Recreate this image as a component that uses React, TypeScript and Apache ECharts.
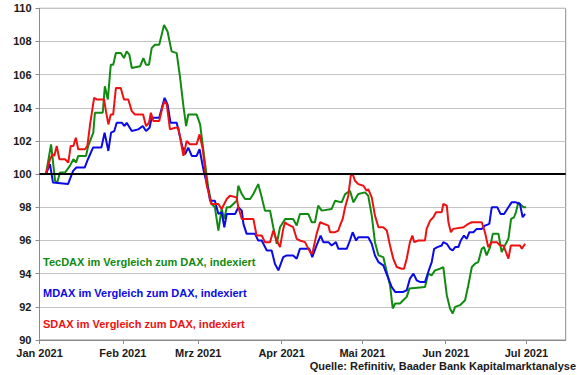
import React, { useEffect, useRef } from "react";
import * as echarts from "echarts";

// x = days since 1 Jan 2021, y = index value (DAX = 100)
const tecdax: [number, number][] = [
  [2.4, 100.0], [4.3, 101.8], [5.8, 99.6], [6.6, 99.5], [7.6, 100.1], [9.5, 100.1], [11.3, 100.5],
  [12.6, 100.9], [13.6, 100.7], [14.4, 101.1], [17.3, 101.1], [18.1, 101.7], [20.0, 102.5],
  [20.6, 103.7], [23.5, 103.7], [24.3, 105.3], [25.4, 104.5], [26.5, 106.6], [27.4, 106.6],
  [28.4, 107.3], [30.2, 107.3], [31.4, 107.0], [32.4, 107.4], [33.4, 107.2], [34.3, 106.4],
  [37.4, 106.5], [38.6, 107.0], [39.6, 106.6], [40.7, 106.6], [41.7, 107.6], [42.9, 107.8],
  [44.5, 107.8], [46.3, 109.0], [47.6, 108.6], [49.1, 107.4], [51.0, 107.3], [52.2, 105.9],
  [53.5, 104.1], [54.5, 102.9], [55.3, 103.6], [58.4, 103.6], [59.7, 103.0], [61.5, 100.7],
  [62.8, 99.1], [64.0, 98.2], [65.2, 98.0], [66.5, 96.6], [67.7, 97.9], [68.7, 97.3], [69.6, 98.0],
  [70.8, 98.0], [73.3, 98.4], [73.9, 99.3], [75.2, 98.8], [76.4, 98.5], [78.3, 98.5], [79.5, 98.8],
  [81.3, 99.4], [82.6, 98.6], [83.8, 97.8], [85.7, 97.8], [86.9, 96.8], [88.2, 95.8], [89.4, 96.8],
  [91.3, 97.3], [94.3, 97.3], [95.6, 96.9], [96.8, 97.6], [99.9, 97.6], [101.2, 97.1], [102.4, 97.1],
  [103.6, 98.1], [104.9, 97.8], [108.6, 97.9], [109.9, 98.4], [112.3, 98.3], [113.6, 98.8],
  [115.4, 99.0], [116.7, 98.3], [118.5, 98.8], [121.0, 98.9], [122.2, 98.7], [123.5, 97.5],
  [124.7, 95.9], [126.0, 95.1], [127.8, 95.0], [129.1, 94.1], [130.3, 93.3], [131.3, 91.9],
  [132.2, 92.2], [134.0, 92.2], [135.2, 92.4], [136.5, 92.6], [137.5, 93.1], [143.3, 93.2],
  [144.5, 94.0], [145.8, 93.9], [147.0, 94.2], [148.9, 94.3], [150.1, 94.4], [151.4, 92.7],
  [152.6, 91.9], [153.6, 91.6], [154.5, 92.0], [156.3, 92.1], [158.2, 92.4], [159.4, 93.3],
  [160.7, 94.4], [161.9, 94.6], [163.1, 94.7], [164.4, 95.5], [165.2, 95.6], [166.2, 95.1],
  [167.5, 95.6], [168.5, 96.4], [170.6, 96.4], [171.8, 95.3], [173.0, 95.7], [174.3, 96.1],
  [175.3, 97.3], [176.4, 97.4], [177.1, 97.7], [178.0, 98.3], [179.9, 98.0], [180.9, 98.0],
];

const mdax: [number, number][] = [
  [2.4, 100.0], [3.9, 100.6], [5.0, 99.5], [10.6, 99.4], [12.5, 100.2], [13.7, 100.4], [16.8, 100.4],
  [18.0, 100.9], [19.9, 101.6], [23.0, 101.6], [24.2, 102.5], [25.6, 101.4], [26.6, 102.5],
  [27.8, 102.6], [28.7, 103.1], [30.6, 103.1], [31.6, 102.9], [32.4, 103.1], [34.3, 102.6],
  [36.7, 102.7], [38.4, 102.9], [39.6, 102.6], [40.9, 102.8], [41.7, 103.4], [44.5, 103.4],
  [46.5, 104.6], [47.6, 104.2], [48.7, 103.1], [51.0, 103.1], [53.2, 101.6], [54.1, 101.2],
  [55.3, 101.6], [56.6, 101.1], [58.4, 101.1], [59.5, 101.5], [60.9, 100.3], [62.8, 99.0],
  [63.4, 98.4], [65.2, 98.4], [66.5, 97.6], [67.7, 97.7], [68.7, 96.8], [69.6, 97.6], [72.7, 97.6],
  [73.9, 98.0], [75.2, 97.8], [75.8, 97.0], [77.0, 96.4], [80.1, 96.4], [81.3, 96.0], [82.6, 96.0],
  [84.5, 95.4], [86.3, 95.4], [87.5, 94.6], [88.8, 94.2], [90.6, 95.0], [91.9, 95.1], [94.3, 95.1],
  [95.6, 94.9], [96.8, 95.5], [100.3, 95.5], [101.4, 95.0], [103.0, 95.7], [104.5, 96.3],
  [105.5, 95.9], [107.4, 95.9], [108.6, 95.7], [110.2, 95.9], [111.1, 95.5], [114.2, 95.5],
  [115.4, 96.0], [116.4, 96.5], [117.7, 96.0], [118.5, 96.2], [122.2, 96.2], [123.5, 95.8],
  [124.7, 95.1], [126.0, 94.7], [127.8, 94.5], [129.7, 93.7], [130.9, 93.2], [132.2, 92.9],
  [135.2, 92.9], [136.5, 93.0], [137.7, 93.7], [139.0, 94.0], [140.2, 93.6], [141.4, 93.5],
  [143.3, 93.5], [144.5, 94.1], [145.8, 94.7], [146.7, 95.5], [147.9, 95.6], [149.5, 95.7],
  [150.1, 95.9], [151.4, 95.8], [152.6, 95.5], [153.6, 95.4], [154.5, 95.6], [155.7, 95.6],
  [156.6, 96.0], [157.8, 96.3], [158.8, 96.1], [159.8, 96.5], [161.3, 96.5], [162.5, 96.7],
  [164.4, 96.7], [165.6, 96.9], [167.2, 97.0], [168.1, 98.0], [170.2, 98.0], [171.4, 97.6],
  [172.7, 97.6], [174.3, 98.0], [175.5, 98.3], [177.1, 98.3], [178.6, 98.2], [179.6, 97.4],
  [180.5, 97.6],
];

const sdax: [number, number][] = [
  [2.4, 100.0], [3.9, 100.9], [4.9, 101.2], [5.5, 101.1], [6.4, 101.7], [7.4, 100.9], [9.5, 100.9],
  [10.7, 100.7], [11.6, 101.7], [12.6, 101.7], [13.5, 102.2], [14.4, 101.5], [16.9, 101.5],
  [17.8, 101.7], [18.8, 103.0], [20.3, 104.6], [21.5, 104.5], [24.0, 104.5], [24.7, 103.8],
  [25.6, 103.0], [26.5, 103.6], [27.4, 103.6], [28.4, 105.2], [30.2, 105.2], [31.4, 104.5],
  [33.0, 104.5], [34.3, 103.8], [35.5, 103.6], [38.5, 103.6], [39.6, 102.9], [40.7, 103.1],
  [41.4, 103.7], [42.3, 103.2], [44.5, 103.2], [45.8, 104.1], [46.5, 104.4], [47.3, 104.2],
  [48.5, 102.7], [50.4, 102.8], [51.6, 102.8], [53.5, 101.1], [54.7, 102.0], [55.9, 101.8],
  [58.4, 101.8], [59.5, 102.4], [60.7, 101.5], [62.2, 99.3], [63.0, 98.8], [63.8, 98.2],
  [66.5, 98.2], [67.7, 97.9], [69.6, 98.5], [70.8, 98.7], [73.3, 98.6], [73.9, 98.0], [75.2, 97.3],
  [79.5, 97.3], [80.7, 96.3], [82.6, 96.3], [83.8, 95.9], [85.7, 95.9], [86.9, 96.6], [88.2, 96.0],
  [89.4, 95.6], [90.6, 96.7], [91.3, 97.1], [91.9, 97.0], [94.3, 96.8], [95.6, 96.1], [96.8, 96.0],
  [98.7, 95.9], [100.6, 95.3], [101.4, 95.2], [103.0, 96.4], [104.3, 97.1], [107.4, 96.9],
  [108.0, 96.5], [109.9, 96.5], [111.1, 96.6], [111.7, 96.9], [112.7, 97.3], [113.6, 98.0],
  [114.8, 98.7], [115.7, 99.9], [116.4, 100.0], [117.3, 99.6], [118.5, 99.4], [120.4, 99.3],
  [121.6, 99.0], [122.2, 99.1], [123.5, 98.6], [124.7, 97.5], [126.0, 96.8], [127.8, 96.8],
  [129.1, 96.6], [130.3, 95.7], [131.5, 94.9], [132.8, 94.4], [134.6, 94.3], [135.5, 94.3],
  [136.5, 94.9], [137.7, 95.9], [138.6, 96.3], [139.3, 95.9], [140.8, 96.0], [143.3, 96.0],
  [143.9, 96.7], [145.2, 97.2], [146.4, 97.4], [147.4, 97.7], [149.5, 97.7], [150.1, 98.2],
  [151.4, 98.1], [152.0, 97.1], [152.9, 96.5], [153.8, 96.7], [157.6, 96.8], [159.4, 97.0],
  [160.7, 97.1], [164.4, 97.1], [165.6, 96.5], [166.8, 95.6], [168.1, 95.9], [170.0, 95.9],
  [171.2, 95.7], [172.4, 95.7], [173.4, 95.3], [174.3, 94.9], [175.2, 95.7], [177.1, 95.7],
  [178.6, 95.7], [179.3, 95.5], [180.5, 95.8],
];

const monthStarts = [0, 31, 59, 90, 120, 151, 181];
const monthLabels = ["Jan 2021", "Feb 2021", "Mrz 2021", "Apr 2021", "Mai 2021", "Jun 2021", "Jul 2021"];
const seriesNames = [
  "TecDAX im Vergleich zum DAX, indexiert",
  "MDAX im Vergleich zum DAX, indexiert",
  "SDAX im Vergleich zum DAX, indexiert",
];
const sourceText = "Quelle: Refinitiv, Baader Bank Kapitalmarktanalyse";

const GREEN = "#118a11";
const BLUE = "#0a0ae6";
const RED = "#ee1111";
const FONT = "'Liberation Sans', Arial, sans-serif";

export default function App() {
  const ref = useRef<HTMLDivElement>(null);
  useEffect(() => {
    if (!ref.current) return;
    const chart = echarts.init(ref.current, null, { renderer: "svg" });
    const labelByValue: Record<number, string> = {};
    monthStarts.forEach((v, i) => (labelByValue[v] = monthLabels[i]));
    const line = (name: string, data: [number, number][], color: string, extra: any = {}) => ({
      name,
      type: "line",
      data,
      showSymbol: false,
      symbol: "none",
      lineStyle: { color, width: 2 },
      itemStyle: { color },
      ...extra,
    });
    chart.setOption({
      animation: false,
      backgroundColor: "#ffffff",
      textStyle: { fontFamily: FONT },
      grid: {
        left: 39.5,
        right: 14.3,
        top: 8.3,
        bottom: 35,
        show: true,
        borderColor: "#8c8c8c",
        borderWidth: 1,
        backgroundColor: "transparent",
      },
      xAxis: {
        type: "value",
        min: 0,
        max: 195.6,
        axisLine: { show: true, lineStyle: { color: "#8c8c8c", width: 1 } },
        axisTick: { show: true, length: 4, customValues: monthStarts, lineStyle: { color: "#8c8c8c" } },
        splitLine: { show: false },
        axisLabel: {
          customValues: monthStarts,
          formatter: (v: number) => labelByValue[v] ?? "",
          fontFamily: FONT,
          fontWeight: "bold",
          fontSize: 11,
          color: "#1a1a1a",
          margin: 7,
        },
      },
      yAxis: {
        type: "value",
        min: 90,
        max: 110,
        interval: 2,
        axisLine: { show: true, lineStyle: { color: "#8c8c8c", width: 1 } },
        axisTick: { show: true, length: 4, lineStyle: { color: "#8c8c8c" } },
        splitLine: { show: true, lineStyle: { color: "#c4c4c4", width: 1 } },
        axisLabel: {
          fontFamily: FONT,
          fontWeight: "bold",
          fontSize: 11,
          color: "#1a1a1a",
          margin: 8,
        },
      },
      series: [
        line(seriesNames[0], tecdax, GREEN, {
          markLine: {
            silent: true,
            symbol: ["none", "none"],
            label: { show: false },
            lineStyle: { color: "#000000", width: 2, type: "solid" },
            data: [{ yAxis: 100 }],
          },
        }),
        line(seriesNames[1], mdax, BLUE),
        line(seriesNames[2], sdax, RED),
      ],
      graphic: [
        {
          type: "text",
          left: 43,
          top: 256,
          style: { text: seriesNames[0], fill: GREEN, font: `bold 11px ${FONT}` },
        },
        {
          type: "text",
          left: 43,
          top: 287,
          style: { text: seriesNames[1], fill: BLUE, font: `bold 11px ${FONT}` },
        },
        {
          type: "text",
          left: 43,
          top: 318,
          style: { text: seriesNames[2], fill: RED, font: `bold 11px ${FONT}` },
        },
        {
          type: "text",
          right: 4,
          top: 360,
          style: { text: sourceText, fill: "#1a1a1a", font: `bold 11px ${FONT}` },
        },
      ],
    });
    return () => chart.dispose();
  }, []);
  return (
    <div
      ref={ref}
      style={{ position: "fixed", left: 0, top: 0, width: 580, height: 375 }}
    />
  );
}
